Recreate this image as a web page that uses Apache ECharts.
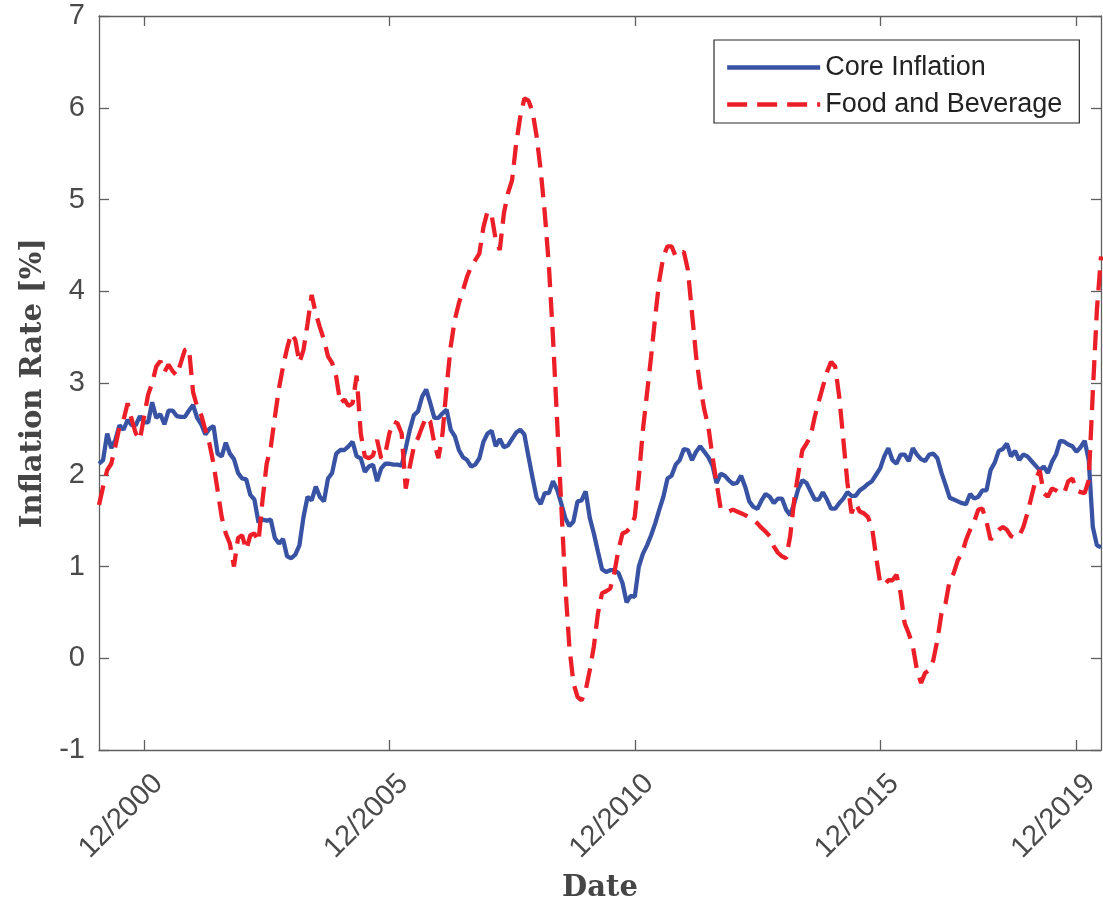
<!DOCTYPE html>
<html><head><meta charset="utf-8">
<script src="https://cdn.jsdelivr.net/npm/echarts@6/dist/echarts.min.js"></script>
<style>html,body{margin:0;padding:0;background:#fff}#c{width:1103px;height:908px}</style>
</head><body><div id="c"></div>
<script>
// Monthly data, 1/2000 .. 6/2020
const startYear = 2000;
const startMonth = 1;
const tickLabels = ['12/2000', '12/2005', '12/2010', '12/2015', '12/2019'];
const seriesNames = ['Core Inflation', 'Food and Beverage'];

const coreInflation = [
  2.12, 2.16, 2.45, 2.29, 2.38, 2.54, 2.49, 2.60, 2.54, 2.54, 2.64, 2.57,
  2.57, 2.79, 2.62, 2.66, 2.55, 2.70, 2.70, 2.64, 2.63, 2.63, 2.70, 2.76,
  2.62, 2.55, 2.44, 2.50, 2.53, 2.23, 2.20, 2.35, 2.23, 2.17, 2.02, 1.96,
  1.95, 1.78, 1.73, 1.48, 1.51, 1.50, 1.51, 1.31, 1.25, 1.30, 1.11, 1.09,
  1.13, 1.23, 1.54, 1.76, 1.72, 1.87, 1.76, 1.71, 1.96, 2.02, 2.23, 2.27,
  2.27, 2.31, 2.36, 2.20, 2.18, 2.03, 2.09, 2.11, 1.93, 2.07, 2.12, 2.12,
  2.11, 2.11, 2.10, 2.29, 2.49, 2.65, 2.69, 2.85, 2.93, 2.78, 2.62, 2.62,
  2.67, 2.71, 2.49, 2.42, 2.27, 2.19, 2.16, 2.09, 2.11, 2.18, 2.36, 2.45,
  2.48, 2.31, 2.39, 2.30, 2.32, 2.39, 2.46, 2.49, 2.44, 2.20, 1.97, 1.75,
  1.68, 1.80, 1.80, 1.93, 1.84, 1.69, 1.53, 1.44, 1.49, 1.71, 1.72, 1.82,
  1.53, 1.36, 1.16, 0.97, 0.94, 0.96, 0.96, 0.93, 0.82, 0.61, 0.68, 0.67,
  1.00, 1.14, 1.23, 1.34, 1.47, 1.62, 1.76, 1.96, 1.99, 2.11, 2.16, 2.28,
  2.27, 2.16, 2.25, 2.31, 2.25, 2.19, 2.10, 1.91, 2.01, 1.99, 1.94, 1.90,
  1.91, 1.99, 1.87, 1.71, 1.65, 1.63, 1.72, 1.79, 1.76, 1.69, 1.74, 1.74,
  1.62, 1.56, 1.69, 1.85, 1.94, 1.91, 1.82, 1.73, 1.73, 1.81, 1.73, 1.63,
  1.63, 1.69, 1.74, 1.81, 1.77, 1.77, 1.83, 1.86, 1.90, 1.93, 2.00, 2.07,
  2.20, 2.29, 2.16, 2.12, 2.22, 2.22, 2.15, 2.29, 2.22, 2.17, 2.15, 2.22,
  2.23, 2.18, 2.02, 1.89, 1.75, 1.73, 1.71, 1.69, 1.68, 1.79, 1.74, 1.76,
  1.83, 1.83, 2.05, 2.13, 2.26, 2.28, 2.34, 2.20, 2.26, 2.16, 2.22, 2.20,
  2.15, 2.10, 2.05, 2.09, 2.02, 2.14, 2.22, 2.37, 2.36, 2.33, 2.31, 2.25,
  2.30, 2.37, 2.16, 1.43, 1.23, 1.21
];

const foodBeverage = [
  1.67, 1.87, 2.05, 2.12, 2.31, 2.52, 2.60, 2.78, 2.60, 2.45, 2.38, 2.63,
  2.87, 3.00, 3.18, 3.24, 3.12, 3.20, 3.13, 3.08, 3.22, 3.36, 3.38, 2.90,
  2.74, 2.65, 2.49, 2.34, 2.12, 1.83, 1.54, 1.36, 1.25, 1.00, 1.31, 1.34,
  1.18, 1.34, 1.36, 1.27, 1.73, 2.12, 2.30, 2.63, 2.94, 3.18, 3.38, 3.54,
  3.47, 3.22, 3.36, 3.65, 3.96, 3.76, 3.61, 3.47, 3.29, 3.22, 3.07, 2.78,
  2.82, 2.75, 2.78, 3.08, 2.45, 2.20, 2.18, 2.21, 2.38, 2.18, 2.23, 2.45,
  2.58, 2.56, 2.45, 1.85, 2.09, 2.31, 2.40, 2.52, 2.63, 2.58, 2.34, 2.18,
  2.45, 2.96, 3.40, 3.69, 3.87, 4.01, 4.16, 4.27, 4.34, 4.41, 4.70, 4.87,
  4.83, 4.56, 4.45, 4.85, 5.07, 5.21, 5.61, 5.90, 6.10, 6.08, 5.96, 5.69,
  5.32, 4.85, 4.28, 3.50, 2.60, 1.70, 0.80, 0.13, -0.27, -0.42, -0.46, -0.35,
  -0.13, 0.13, 0.49, 0.71, 0.73, 0.76, 0.93, 1.18, 1.36, 1.38, 1.43, 1.54,
  1.98, 2.49, 2.89, 3.29, 3.72, 4.12, 4.38, 4.49, 4.49, 4.38, 4.41, 4.43,
  4.23, 3.76, 3.29, 2.96, 2.71, 2.52, 2.20, 1.91, 1.63, 1.62, 1.60, 1.62,
  1.60, 1.58, 1.56, 1.53, 1.51, 1.47, 1.42, 1.38, 1.33, 1.22, 1.15, 1.11,
  1.09, 1.33, 1.73, 2.02, 2.27, 2.34, 2.42, 2.63, 2.80, 2.96, 3.12, 3.23,
  3.18, 2.85, 2.38, 1.91, 1.58, 1.69, 1.60, 1.58, 1.54, 1.43, 1.11, 0.82,
  0.80, 0.85, 0.85, 0.91, 0.71, 0.38, 0.27, 0.13, -0.13, -0.27, -0.16, -0.13,
  -0.02, 0.20, 0.49, 0.60, 0.85, 0.93, 1.07, 1.14, 1.29, 1.40, 1.49, 1.62,
  1.63, 1.49, 1.29, 1.36, 1.40, 1.43, 1.40, 1.33, 1.31, 1.33, 1.43, 1.58,
  1.76, 1.94, 2.05, 1.80, 1.76, 1.85, 1.83, 1.80, 1.80, 1.93, 1.96, 1.83,
  1.81, 1.80, 1.94, 2.90, 3.80, 4.38
];

const categories = [];
for (let k = 0; k < coreInflation.length; k++) {
  const m = (startMonth - 1 + k) % 12 + 1;
  const y = startYear + Math.floor((startMonth - 1 + k) / 12);
  categories.push(m + '/' + y);
}
const isTick = (idx) => tickLabels.indexOf(categories[idx]) >= 0;

const axisColor = '#5f5f5f';
const textColor = '#4a4a4a';
const sansFont = '"Liberation Sans", Arial, Helvetica, sans-serif';
const serifFont = '"DejaVu Serif", serif';
const lineW = 4.3;

const chart = echarts.init(document.getElementById('c'), null, { renderer: 'canvas' });
chart.setOption({
  animation: false,
  backgroundColor: '#ffffff',
  grid: { left: 99, right: 2, top: 16, bottom: 158, containLabel: false, outerBoundsMode: 'none' },
  legend: {
    orient: 'vertical',
    left: 714,
    top: 40,
    padding: [14, 17, 5, 11],
    itemWidth: 93,
    itemHeight: 28,
    itemGap: 10,
    backgroundColor: '#ffffff',
    borderColor: '#2b2b2b',
    borderWidth: 1.2,
    borderRadius: 0,
    itemStyle: { opacity: 0, borderWidth: 0 },
    lineStyle: { width: lineW },
    textStyle: { fontSize: 27, color: '#222222', fontFamily: sansFont },
    data: seriesNames
  },
  xAxis: [
    {
      type: 'category',
      data: categories,
      boundaryGap: false,
      position: 'bottom',
      axisLine: { onZero: false, lineStyle: { color: axisColor, width: 1.3 } },
      axisTick: { inside: true, length: 10, interval: (i) => isTick(i), lineStyle: { color: axisColor, width: 1.3 } },
      axisLabel: {
        interval: (i) => isTick(i),
        rotate: 45,
        fontSize: 29,
        fontFamily: sansFont,
        color: textColor,
        margin: 15,
        verticalAlign: 'top',
        lineHeight: 40
      },
      splitLine: { show: false },
      name: 'Date',
      nameLocation: 'middle',
      nameGap: 120,
      nameTextStyle: { fontFamily: serifFont, fontWeight: 'bold', fontSize: 29, color: '#454545' }
    },
    {
      type: 'category',
      data: categories,
      boundaryGap: false,
      position: 'top',
      axisLine: { onZero: false, lineStyle: { color: axisColor, width: 1.3 } },
      axisTick: { inside: true, length: 10, interval: (i) => isTick(i), lineStyle: { color: axisColor, width: 1.3 } },
      axisLabel: { show: false },
      splitLine: { show: false }
    }
  ],
  yAxis: [
    {
      type: 'value',
      min: -1, max: 7, interval: 1,
      position: 'left',
      axisLine: { show: true, onZero: false, lineStyle: { color: axisColor, width: 1.3 } },
      axisTick: { show: true, inside: true, length: 10, lineStyle: { color: axisColor, width: 1.3 } },
      axisLabel: { fontSize: 29, fontFamily: sansFont, color: textColor, margin: 14 },
      splitLine: { show: false },
      name: 'Inflation Rate [%]',
      nameLocation: 'middle',
      nameRotate: 90,
      nameGap: 50,
      nameTextStyle: { fontFamily: serifFont, fontWeight: 'bold', fontSize: 29, color: '#454545' }
    },
    {
      type: 'value',
      min: -1, max: 7, interval: 1,
      position: 'right',
      axisLine: { show: true, onZero: false, lineStyle: { color: axisColor, width: 1.3 } },
      axisTick: { show: true, inside: true, length: 10, lineStyle: { color: axisColor, width: 1.3 } },
      axisLabel: { show: false },
      splitLine: { show: false }
    }
  ],
  series: [
    {
      name: seriesNames[0],
      type: 'line',
      data: coreInflation,
      xAxisIndex: 0, yAxisIndex: 0,
      symbol: 'none',
      lineStyle: { color: '#3953a4', width: lineW },
      itemStyle: { color: '#3953a4' },
      z: 3
    },
    {
      name: seriesNames[1],
      type: 'line',
      data: foodBeverage,
      xAxisIndex: 0, yAxisIndex: 0,
      symbol: 'none',
      lineStyle: { color: '#ec1f28', width: lineW, type: [20, 10] },
      itemStyle: { color: '#ec1f28' },
      z: 4
    }
  ]
});
</script>
</body></html>
